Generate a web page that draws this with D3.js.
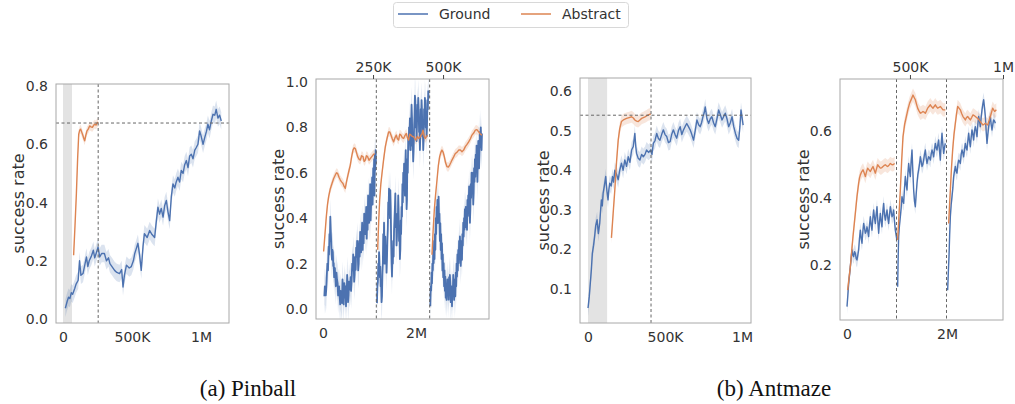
<!DOCTYPE html>
<meta charset="utf-8">
<style>
  body { margin: 0; background: #fff; }
</style>
<svg width="1015" height="404"></svg>
<script src="https://d3js.org/d3.v7.min.js"></script>
<script>

// ---- data (x in millions of steps, y = success rate) ----
var seriesNames = ["Ground", "Abstract"];

// (a) Pinball, single run
var pinGround = [[0.017,0.037],[0.03,0.06],[0.04,0.075],[0.05,0.07],[0.06,0.09],[0.07,0.085],[0.085,0.105],[0.095,0.12],[0.11,0.133],[0.12,0.2],[0.13,0.15],[0.145,0.156],[0.16,0.19],[0.17,0.213],[0.18,0.18],[0.19,0.2],[0.205,0.215],[0.22,0.236],[0.23,0.21],[0.24,0.225],[0.254,0.247],[0.266,0.213],[0.28,0.225],[0.3,0.225],[0.315,0.2],[0.33,0.21],[0.34,0.19],[0.355,0.18],[0.374,0.167],[0.39,0.16],[0.41,0.156],[0.425,0.17],[0.435,0.11],[0.445,0.15],[0.46,0.185],[0.48,0.175],[0.495,0.18],[0.51,0.2],[0.52,0.225],[0.53,0.24],[0.543,0.26],[0.555,0.22],[0.567,0.167],[0.58,0.25],[0.59,0.293],[0.61,0.28],[0.628,0.304],[0.645,0.29],[0.664,0.28],[0.675,0.33],[0.688,0.384],[0.7,0.36],[0.712,0.38],[0.725,0.35],[0.737,0.39],[0.749,0.407],[0.76,0.37],[0.773,0.338],[0.785,0.42],[0.797,0.464],[0.81,0.45],[0.82,0.47],[0.833,0.487],[0.845,0.47],[0.857,0.51],[0.87,0.5],[0.882,0.53],[0.894,0.544],[0.906,0.52],[0.918,0.56],[0.93,0.566],[0.942,0.55],[0.955,0.58],[0.966,0.589],[0.978,0.6],[0.99,0.646],[1.0,0.63],[1.015,0.6],[1.027,0.623],[1.04,0.645],[1.05,0.669],[1.062,0.65],[1.075,0.68],[1.087,0.703],[1.1,0.7],[1.11,0.72],[1.123,0.69],[1.135,0.7],[1.147,0.68]];
var pinAbstract = [[0.077,0.219],[0.087,0.32],[0.097,0.43],[0.106,0.55],[0.114,0.635],[0.121,0.648],[0.128,0.652],[0.137,0.64],[0.145,0.629],[0.151,0.62],[0.157,0.612],[0.165,0.63],[0.174,0.646],[0.183,0.652],[0.193,0.663],[0.203,0.66],[0.213,0.658],[0.222,0.665],[0.23,0.669],[0.24,0.666],[0.249,0.675],[0.255,0.672]];

// Pinball, three runs (second panel)
var pinGroundRuns = [
  [[0.029,0.056],[0.04,0.1],[0.05,0.09],[0.06,0.06],[0.07,0.085],[0.083,0.15],[0.095,0.2],[0.108,0.17],[0.122,0.275],[0.13,0.24],[0.14,0.33],[0.149,0.3],[0.158,0.407],[0.167,0.35],[0.176,0.3],[0.185,0.24],[0.194,0.217],[0.203,0.26],[0.212,0.25],[0.221,0.19],[0.23,0.202],[0.24,0.14],[0.248,0.17],[0.256,0.18],[0.265,0.143],[0.277,0.1],[0.29,0.16],[0.302,0.13],[0.315,0.114],[0.325,0.06],[0.335,0.09],[0.346,0.1],[0.358,0.056],[0.37,0.02],[0.38,0.08],[0.395,0.05],[0.409,0.026],[0.42,0.13],[0.43,0.09],[0.445,0.02],[0.459,0.114],[0.467,0.09],[0.475,0.05],[0.485,0.1],[0.495,0.012],[0.503,0.06],[0.512,0.08],[0.52,0.15],[0.53,0.114],[0.54,0.03],[0.55,0.06],[0.56,0.12],[0.573,0.085],[0.584,0.1],[0.595,0.14],[0.605,0.08],[0.616,0.129],[0.628,0.2],[0.64,0.17],[0.65,0.24],[0.66,0.202],[0.67,0.12],[0.68,0.15],[0.692,0.23],[0.703,0.173],[0.714,0.27],[0.725,0.23],[0.735,0.3],[0.746,0.261],[0.757,0.17],[0.768,0.2],[0.778,0.3],[0.789,0.231],[0.8,0.34],[0.81,0.3],[0.82,0.25],[0.832,0.319],[0.842,0.38],[0.853,0.26],[0.864,0.33],[0.875,0.29],[0.886,0.42],[0.897,0.38],[0.908,0.33],[0.918,0.378],[0.93,0.45],[0.94,0.31],[0.95,0.4],[0.96,0.349],[0.97,0.5],[0.982,0.45],[0.993,0.38],[1.004,0.436],[1.015,0.55],[1.025,0.39],[1.036,0.47],[1.047,0.495],[1.058,0.58],[1.068,0.46],[1.08,0.62],[1.09,0.553],[1.1,0.66],[1.108,0.5],[1.117,0.68],[1.125,0.612],[1.133,0.7],[1.14,0.641]],
  [[1.161,0.026],[1.17,0.1],[1.18,0.12],[1.19,0.2],[1.197,0.158],[1.206,0.25],[1.215,0.2],[1.224,0.14],[1.233,0.187],[1.24,0.1],[1.25,0.12],[1.26,0.03],[1.269,0.056],[1.278,0.15],[1.287,0.2],[1.296,0.33],[1.305,0.261],[1.313,0.38],[1.322,0.2],[1.331,0.26],[1.34,0.319],[1.35,0.2],[1.358,0.28],[1.367,0.16],[1.376,0.217],[1.385,0.3],[1.394,0.35],[1.403,0.47],[1.412,0.451],[1.42,0.53],[1.43,0.48],[1.44,0.4],[1.448,0.524],[1.457,0.45],[1.466,0.3],[1.475,0.2],[1.484,0.143],[1.493,0.25],[1.502,0.2],[1.511,0.3],[1.52,0.231],[1.529,0.35],[1.538,0.4],[1.547,0.45],[1.556,0.509],[1.565,0.36],[1.574,0.4],[1.582,0.28],[1.591,0.319],[1.6,0.42],[1.61,0.38],[1.618,0.5],[1.627,0.436],[1.636,0.3],[1.645,0.35],[1.654,0.22],[1.663,0.261],[1.672,0.39],[1.68,0.33],[1.69,0.45],[1.699,0.407],[1.708,0.55],[1.717,0.47],[1.726,0.6],[1.735,0.524],[1.744,0.64],[1.753,0.58],[1.762,0.5],[1.771,0.627],[1.78,0.7],[1.79,0.55],[1.798,0.44],[1.806,0.48],[1.815,0.66],[1.824,0.6],[1.833,0.75],[1.842,0.7],[1.851,0.8],[1.86,0.74],[1.869,0.84],[1.878,0.773],[1.887,0.7],[1.896,0.82],[1.905,0.9],[1.914,0.846],[1.922,0.72],[1.93,0.75],[1.94,0.65],[1.95,0.7],[1.959,0.8],[1.968,0.85],[1.977,0.94],[1.986,0.919],[1.995,0.8],[2.004,0.86],[2.013,0.74],[2.022,0.817],[2.031,0.9],[2.04,0.86],[2.049,0.93],[2.057,0.89],[2.066,0.78],[2.075,0.8],[2.084,0.7],[2.093,0.758],[2.102,0.88],[2.11,0.83],[2.12,0.92],[2.129,0.876],[2.138,0.76],[2.147,0.8],[2.156,0.7],[2.165,0.744],[2.174,0.88],[2.183,0.85],[2.192,0.93],[2.2,0.905],[2.21,0.8],[2.218,0.86],[2.228,0.76],[2.237,0.802],[2.246,0.92],[2.255,0.88],[2.264,0.96],[2.272,0.934]],
  [[2.308,0.012],[2.317,0.1],[2.326,0.08],[2.335,0.16],[2.344,0.114],[2.353,0.2],[2.362,0.17],[2.371,0.25],[2.38,0.202],[2.39,0.3],[2.398,0.22],[2.407,0.33],[2.416,0.261],[2.425,0.4],[2.434,0.33],[2.443,0.45],[2.452,0.378],[2.461,0.48],[2.47,0.45],[2.479,0.38],[2.487,0.495],[2.496,0.38],[2.505,0.42],[2.514,0.3],[2.523,0.378],[2.532,0.26],[2.541,0.33],[2.55,0.22],[2.559,0.29],[2.568,0.17],[2.577,0.24],[2.586,0.14],[2.595,0.202],[2.604,0.1],[2.613,0.17],[2.622,0.08],[2.631,0.143],[2.64,0.05],[2.649,0.11],[2.658,0.04],[2.667,0.085],[2.676,0.13],[2.685,0.06],[2.694,0.1],[2.703,0.041],[2.712,0.14],[2.72,0.09],[2.729,0.15],[2.738,0.114],[2.747,0.03],[2.756,0.06],[2.765,0.1],[2.774,0.012],[2.783,0.09],[2.792,0.07],[2.801,0.15],[2.81,0.114],[2.82,0.04],[2.828,0.09],[2.837,0.13],[2.846,0.056],[2.855,0.16],[2.864,0.1],[2.873,0.2],[2.882,0.143],[2.891,0.24],[2.9,0.17],[2.909,0.26],[2.918,0.202],[2.927,0.3],[2.936,0.24],[2.945,0.32],[2.953,0.261],[2.962,0.19],[2.97,0.23],[2.98,0.3],[2.989,0.217],[2.998,0.33],[3.007,0.28],[3.016,0.38],[3.025,0.319],[3.034,0.4],[3.043,0.35],[3.052,0.44],[3.061,0.378],[3.07,0.45],[3.079,0.36],[3.088,0.42],[3.097,0.349],[3.106,0.48],[3.115,0.41],[3.124,0.5],[3.133,0.451],[3.142,0.54],[3.15,0.46],[3.16,0.38],[3.168,0.436],[3.177,0.55],[3.186,0.49],[3.195,0.6],[3.204,0.524],[3.213,0.6],[3.222,0.55],[3.231,0.46],[3.24,0.509],[3.249,0.62],[3.258,0.56],[3.267,0.66],[3.276,0.583],[3.285,0.68],[3.294,0.61],[3.303,0.72],[3.312,0.641],[3.321,0.56],[3.33,0.66],[3.339,0.74],[3.348,0.685],[3.357,0.62],[3.366,0.7],[3.375,0.78],[3.384,0.714],[3.393,0.8],[3.4,0.74],[3.41,0.7],[3.419,0.773]]
];
var pinAbstractRuns = [
  [[0.014,0.253],[0.043,0.33],[0.072,0.407],[0.097,0.46],[0.122,0.495],[0.158,0.53],[0.194,0.553],[0.23,0.575],[0.265,0.59],[0.29,0.6],[0.315,0.597],[0.345,0.58],[0.373,0.568],[0.4,0.56],[0.43,0.553],[0.455,0.54],[0.48,0.531],[0.505,0.56],[0.53,0.583],[0.56,0.61],[0.588,0.634],[0.616,0.67],[0.645,0.7],[0.67,0.71],[0.695,0.707],[0.72,0.69],[0.746,0.671],[0.775,0.66],[0.803,0.656],[0.83,0.675],[0.86,0.671],[0.885,0.65],[0.91,0.656],[0.935,0.675],[0.96,0.671],[0.99,0.655],[1.018,0.663],[1.045,0.67],[1.075,0.678],[1.11,0.685]],
  [[1.176,0.261],[1.197,0.38],[1.219,0.48],[1.244,0.55],[1.269,0.597],[1.305,0.66],[1.34,0.714],[1.376,0.75],[1.412,0.78],[1.437,0.78],[1.462,0.766],[1.49,0.75],[1.52,0.736],[1.55,0.755],[1.577,0.766],[1.6,0.75],[1.627,0.744],[1.65,0.77],[1.677,0.766],[1.705,0.755],[1.735,0.751],[1.765,0.765],[1.792,0.773],[1.815,0.755],[1.842,0.744],[1.865,0.77],[1.892,0.766],[1.92,0.76],[1.95,0.758],[1.975,0.75],[2.0,0.744],[2.03,0.76],[2.057,0.751],[2.08,0.755],[2.108,0.766],[2.13,0.77],[2.151,0.788],[2.175,0.76],[2.2,0.751],[2.225,0.76],[2.25,0.766]],
  [[2.344,0.239],[2.37,0.35],[2.394,0.436],[2.42,0.5],[2.452,0.568],[2.48,0.63],[2.509,0.671],[2.535,0.69],[2.559,0.7],[2.585,0.69],[2.609,0.671],[2.635,0.645],[2.667,0.627],[2.695,0.625],[2.724,0.634],[2.75,0.645],[2.774,0.656],[2.81,0.67],[2.846,0.685],[2.88,0.69],[2.918,0.7],[2.955,0.7],[2.989,0.693],[3.025,0.7],[3.061,0.715],[3.097,0.725],[3.133,0.736],[3.17,0.75],[3.204,0.766],[3.24,0.775],[3.276,0.788],[3.31,0.79],[3.348,0.78],[3.385,0.77],[3.419,0.766]]
];

// (b) Antmaze, single run
var antGround = [[0.0,0.052],[0.008,0.08],[0.015,0.115],[0.022,0.15],[0.028,0.19],[0.036,0.21],[0.043,0.233],[0.05,0.26],[0.059,0.275],[0.067,0.24],[0.076,0.266],[0.082,0.3],[0.087,0.325],[0.093,0.31],[0.098,0.342],[0.106,0.36],[0.115,0.384],[0.122,0.35],[0.13,0.325],[0.135,0.35],[0.141,0.367],[0.15,0.36],[0.159,0.384],[0.166,0.37],[0.174,0.4],[0.185,0.39],[0.196,0.376],[0.206,0.4],[0.217,0.418],[0.228,0.4],[0.239,0.426],[0.25,0.41],[0.261,0.434],[0.272,0.42],[0.283,0.451],[0.294,0.46],[0.304,0.493],[0.31,0.46],[0.315,0.443],[0.326,0.43],[0.337,0.426],[0.348,0.44],[0.359,0.434],[0.37,0.44],[0.38,0.451],[0.393,0.445],[0.407,0.451],[0.415,0.44],[0.424,0.468],[0.435,0.475],[0.446,0.493],[0.457,0.48],[0.467,0.476],[0.478,0.49],[0.489,0.502],[0.5,0.49],[0.511,0.485],[0.522,0.47],[0.533,0.472],[0.543,0.49],[0.554,0.502],[0.565,0.49],[0.576,0.481],[0.587,0.5],[0.598,0.51],[0.609,0.49],[0.62,0.502],[0.63,0.51],[0.641,0.518],[0.652,0.51],[0.663,0.502],[0.674,0.49],[0.685,0.476],[0.696,0.5],[0.707,0.527],[0.718,0.515],[0.728,0.51],[0.737,0.52],[0.746,0.535],[0.754,0.545],[0.761,0.56],[0.772,0.53],[0.783,0.518],[0.794,0.53],[0.804,0.535],[0.815,0.52],[0.826,0.51],[0.837,0.53],[0.848,0.552],[0.859,0.54],[0.87,0.527],[0.88,0.535],[0.891,0.544],[0.902,0.53],[0.913,0.51],[0.924,0.52],[0.935,0.535],[0.946,0.51],[0.957,0.493],[0.968,0.48],[0.978,0.476],[0.986,0.51],[0.993,0.552],[1.007,0.514]];
var antAbstract = [[0.152,0.229],[0.163,0.29],[0.174,0.35],[0.185,0.42],[0.196,0.476],[0.206,0.505],[0.217,0.523],[0.233,0.528],[0.25,0.531],[0.267,0.533],[0.283,0.535],[0.294,0.532],[0.304,0.527],[0.315,0.524],[0.326,0.523],[0.337,0.527],[0.348,0.531],[0.359,0.533],[0.37,0.535],[0.38,0.537],[0.391,0.54],[0.407,0.542]];

// Antmaze, three runs (fourth panel)
var antGroundRuns = [
  [[0.0,0.076],[0.017,0.11],[0.033,0.145],[0.05,0.17],[0.067,0.195],[0.083,0.22],[0.1,0.245],[0.117,0.23],[0.133,0.225],[0.15,0.24],[0.167,0.235],[0.183,0.22],[0.2,0.215],[0.217,0.23],[0.233,0.245],[0.25,0.28],[0.267,0.304],[0.283,0.28],[0.3,0.265],[0.317,0.3],[0.333,0.324],[0.35,0.31],[0.367,0.295],[0.383,0.3],[0.4,0.314],[0.417,0.3],[0.433,0.285],[0.45,0.32],[0.467,0.344],[0.483,0.32],[0.5,0.304],[0.517,0.34],[0.533,0.364],[0.55,0.34],[0.567,0.324],[0.583,0.35],[0.6,0.374],[0.617,0.33],[0.633,0.295],[0.65,0.33],[0.667,0.354],[0.683,0.33],[0.7,0.314],[0.717,0.36],[0.733,0.384],[0.75,0.35],[0.767,0.334],[0.783,0.35],[0.8,0.364],[0.817,0.34],[0.833,0.324],[0.85,0.35],[0.867,0.374],[0.883,0.36],[0.9,0.344],[0.917,0.35],[0.933,0.364],[0.95,0.33],[0.967,0.304],[0.983,0.29],[1.0,0.275]],
  [[1.013,0.135],[1.023,0.22],[1.033,0.285],[1.05,0.32],[1.067,0.344],[1.083,0.37],[1.1,0.404],[1.117,0.39],[1.133,0.384],[1.15,0.43],[1.167,0.464],[1.183,0.44],[1.2,0.424],[1.217,0.47],[1.233,0.503],[1.25,0.48],[1.267,0.464],[1.283,0.51],[1.3,0.543],[1.317,0.48],[1.333,0.424],[1.35,0.39],[1.367,0.374],[1.383,0.41],[1.4,0.444],[1.417,0.47],[1.433,0.484],[1.45,0.5],[1.467,0.523],[1.483,0.51],[1.5,0.494],[1.517,0.5],[1.533,0.513],[1.55,0.53],[1.567,0.543],[1.583,0.52],[1.6,0.503],[1.617,0.515],[1.633,0.523],[1.65,0.52],[1.667,0.513],[1.683,0.53],[1.7,0.543],[1.717,0.535],[1.733,0.523],[1.75,0.545],[1.767,0.563],[1.783,0.55],[1.8,0.543],[1.817,0.56],[1.833,0.573],[1.85,0.54],[1.867,0.513],[1.883,0.56],[1.9,0.593],[1.917,0.56],[1.933,0.533],[1.95,0.55],[1.967,0.563]],
  [[2.013,0.125],[2.027,0.18],[2.04,0.225],[2.053,0.29],[2.067,0.344],[2.083,0.38],[2.1,0.404],[2.117,0.43],[2.133,0.464],[2.15,0.48],[2.167,0.494],[2.183,0.48],[2.2,0.474],[2.217,0.5],[2.233,0.513],[2.25,0.51],[2.267,0.503],[2.283,0.53],[2.3,0.543],[2.317,0.535],[2.333,0.523],[2.35,0.545],[2.367,0.563],[2.383,0.55],[2.4,0.543],[2.417,0.57],[2.433,0.593],[2.45,0.57],[2.467,0.553],[2.483,0.58],[2.5,0.603],[2.517,0.59],[2.533,0.573],[2.55,0.6],[2.567,0.613],[2.583,0.6],[2.6,0.583],[2.617,0.62],[2.633,0.643],[2.65,0.63],[2.667,0.613],[2.683,0.64],[2.7,0.663],[2.717,0.68],[2.733,0.693],[2.75,0.67],[2.767,0.643],[2.783,0.6],[2.8,0.563],[2.817,0.59],[2.833,0.613],[2.85,0.63],[2.867,0.643],[2.883,0.62],[2.9,0.603],[2.917,0.62],[2.933,0.633],[2.95,0.63],[2.967,0.623]]
];
var antAbstractRuns = [
  [[0.013,0.125],[0.04,0.16],[0.067,0.195],[0.093,0.24],[0.12,0.285],[0.147,0.325],[0.173,0.364],[0.2,0.405],[0.233,0.444],[0.25,0.46],[0.267,0.469],[0.293,0.478],[0.32,0.484],[0.343,0.475],[0.367,0.464],[0.39,0.478],[0.413,0.489],[0.44,0.484],[0.467,0.479],[0.493,0.487],[0.52,0.494],[0.543,0.484],[0.567,0.474],[0.59,0.487],[0.613,0.499],[0.64,0.494],[0.667,0.489],[0.693,0.49],[0.72,0.494],[0.743,0.497],[0.767,0.499],[0.79,0.496],[0.813,0.494],[0.84,0.498],[0.867,0.503],[0.893,0.5],[0.92,0.499],[0.953,0.503]],
  [[1.013,0.275],[1.04,0.35],[1.067,0.424],[1.093,0.51],[1.12,0.583],[1.153,0.62],[1.187,0.643],[1.22,0.665],[1.253,0.683],[1.287,0.695],[1.32,0.707],[1.343,0.7],[1.367,0.693],[1.39,0.68],[1.413,0.668],[1.44,0.66],[1.467,0.653],[1.493,0.655],[1.52,0.658],[1.543,0.656],[1.567,0.653],[1.59,0.66],[1.613,0.668],[1.64,0.673],[1.667,0.678],[1.693,0.672],[1.72,0.668],[1.743,0.673],[1.767,0.678],[1.79,0.672],[1.813,0.668],[1.84,0.67],[1.867,0.673],[1.893,0.668],[1.92,0.663],[1.967,0.663]],
  [[2.033,0.324],[2.05,0.375],[2.067,0.424],[2.09,0.49],[2.113,0.543],[2.14,0.59],[2.167,0.623],[2.19,0.65],[2.213,0.673],[2.24,0.668],[2.267,0.663],[2.293,0.652],[2.32,0.643],[2.343,0.638],[2.367,0.633],[2.39,0.64],[2.413,0.643],[2.44,0.638],[2.467,0.633],[2.493,0.64],[2.52,0.648],[2.543,0.646],[2.567,0.643],[2.59,0.64],[2.613,0.638],[2.64,0.633],[2.667,0.628],[2.693,0.622],[2.72,0.618],[2.743,0.62],[2.767,0.623],[2.79,0.62],[2.813,0.618],[2.84,0.63],[2.867,0.643],[2.89,0.655],[2.913,0.668],[2.933,0.663],[2.953,0.658],[2.987,0.663]]
];

// confidence half-widths per series
var ciPin = { ground: 0.03, abstract: 0.015 };
var ciPinRuns = { ground: 0.08, abstract: 0.02 };
var ciAnt = { ground: 0.02, abstract: 0.015 };
var ciAntRuns = { ground: 0.022, abstract: 0.02 };

// reference markers
var pinWarmup = [0, 0.065], pinSwitch = 0.255, pinTarget = 0.673;
var antWarmup = [0, 0.124], antSwitch = 0.409, antTarget = 0.539;
var pinRunBreaks = [1.147, 2.294];
var antRunBreaks = [0.99, 1.99];

var captions = ["(a) Pinball", "(b) Antmaze"];

// ---- drawing ----
var blue = "#4c72b0", orange = "#dd8452";
var svg = d3.select("svg");

function fmtSteps(v) {
  if (v === 0) return "0";
  if (v < 1) return Math.round(v * 1000) + "K";
  return v + "M";
}

var clipId = 0;
function panel(opt) {
  var x = d3.scaleLinear().domain(opt.xDomain).range([opt.left, opt.right]);
  var y = d3.scaleLinear().domain(opt.yDomain).range([opt.bottom, opt.top]);
  var g = svg.append("g");

  var cid = "clip" + (clipId++);
  g.append("clipPath").attr("id", cid).append("rect")
    .attr("x", opt.left).attr("y", opt.top)
    .attr("width", opt.right - opt.left).attr("height", opt.bottom - opt.top);
  var plot = g.append("g").attr("clip-path", "url(#" + cid + ")");

  if (opt.warmup) {
    plot.append("rect")
      .attr("x", x(opt.warmup[0])).attr("width", x(opt.warmup[1]) - x(opt.warmup[0]))
      .attr("y", opt.top).attr("height", opt.bottom - opt.top)
      .attr("fill", "#e3e3e3");
  }

  var line = d3.line().x(function(d){ return x(d[0]); }).y(function(d){ return y(d[1]); });
  function band(ci) {
    return d3.area().x(function(d){ return x(d[0]); })
      .y0(function(d){ return y(d[1] - ci); })
      .y1(function(d){ return y(d[1] + ci); });
  }

  opt.series.forEach(function(s) {
    s.runs.forEach(function(run) {
      plot.append("path").attr("d", band(s.ci)(run))
        .attr("fill", s.color).attr("fill-opacity", 0.2).attr("stroke", "none");
    });
  });
  opt.series.forEach(function(s) {
    s.runs.forEach(function(run) {
      plot.append("path").attr("d", line(run))
        .attr("fill", "none").attr("stroke", s.color).attr("stroke-width", s.width || 1.4)
        .attr("stroke-linejoin", "round");
    });
  });

  (opt.vlines || []).forEach(function(v) {
    plot.append("line").attr("x1", x(v)).attr("x2", x(v))
      .attr("y1", opt.top).attr("y2", opt.bottom)
      .attr("stroke", "#666").attr("stroke-width", 1).attr("stroke-dasharray", "3,2.5");
  });
  if (opt.hline != null) {
    plot.append("line").attr("x1", opt.left).attr("x2", opt.right)
      .attr("y1", y(opt.hline)).attr("y2", y(opt.hline))
      .attr("stroke", "#666").attr("stroke-width", 1).attr("stroke-dasharray", "3,2.5");
  }

  // frame
  g.append("rect").attr("x", opt.left).attr("y", opt.top)
    .attr("width", opt.right - opt.left).attr("height", opt.bottom - opt.top)
    .attr("fill", "none").attr("stroke", "#a8a8a8").attr("stroke-width", 1);

  var xAxis = g.append("g").attr("transform", "translate(0," + opt.bottom + ")")
    .call(d3.axisBottom(x).tickValues(opt.xTicks).tickFormat(fmtSteps).tickSize(0).tickPadding(9));
  var yAxis = g.append("g").attr("transform", "translate(" + opt.left + ",0)")
    .call(d3.axisLeft(y).tickValues(opt.yTicks).tickFormat(d3.format(opt.yFormat)).tickSize(0).tickPadding(8));
  [xAxis, yAxis].forEach(function(a) {
    a.select(".domain").remove();
    a.selectAll("text").attr("font-size", 14).attr("fill", "#333")
      .attr("font-family", "DejaVu Sans, sans-serif");
  });

  if (opt.topAxis) {
    var xt = d3.scaleLinear().domain(opt.topAxis.domain).range([opt.left, opt.right]);
    var ta = g.append("g").attr("transform", "translate(0," + opt.top + ")")
      .call(d3.axisTop(xt).tickValues(opt.topAxis.ticks)
        .tickFormat(function(v){ return fmtSteps(v / 1e6); }).tickSize(4).tickPadding(3));
    ta.select(".domain").remove();
    ta.selectAll("line").attr("stroke", "#444");
    ta.selectAll("text").attr("font-size", 14).attr("fill", "#333")
      .attr("font-family", "DejaVu Sans, sans-serif");
  }

  g.append("text")
    .attr("transform", "translate(" + opt.labelX + "," + ((opt.top + opt.bottom) / 2) + ") rotate(-90)")
    .attr("text-anchor", "middle").attr("dy", "0.35em")
    .attr("font-family", "DejaVu Sans, sans-serif")
    .attr("font-size", 16).attr("fill", "#333")
    .text("success rate");
}

panel({
  left: 56, right: 229, top: 84, bottom: 323,
  xDomain: [-0.0507, 1.203], yDomain: [-0.0137, 0.807],
  xTicks: [0, 0.5, 1], yTicks: [0, 0.2, 0.4, 0.6, 0.8], yFormat: ".1f",
  warmup: pinWarmup, vlines: [pinSwitch], hline: pinTarget, labelX: 18,
  series: [
    { color: blue, ci: ciPin.ground, runs: [pinGround] },
    { color: orange, ci: ciPin.abstract, runs: [pinAbstract] }
  ]
});

panel({
  left: 316, right: 489, top: 79, bottom: 319,
  xDomain: [-0.15, 3.57], yDomain: [-0.044, 1.013],
  xTicks: [0, 2], yTicks: [0, 0.2, 0.4, 0.6, 0.8, 1.0], yFormat: ".1f",
  vlines: pinRunBreaks, labelX: 278,
  topAxis: { domain: [46400, 664000], ticks: [250000, 500000] },
  series: [
    { color: blue, ci: ciPinRuns.ground, runs: pinGroundRuns, width: 1.8 },
    { color: orange, ci: ciPinRuns.abstract, runs: pinAbstractRuns }
  ]
});

panel({
  left: 580, right: 751, top: 78, bottom: 323,
  xDomain: [-0.052, 1.058], yDomain: [0.014, 0.633],
  xTicks: [0, 0.5, 1], yTicks: [0.1, 0.2, 0.3, 0.4, 0.5, 0.6], yFormat: ".1f",
  warmup: antWarmup, vlines: [antSwitch], hline: antTarget, labelX: 543,
  series: [
    { color: blue, ci: ciAnt.ground, runs: [antGround] },
    { color: orange, ci: ciAnt.abstract, runs: [antAbstract] }
  ]
});

panel({
  left: 840, right: 1003, top: 79, bottom: 320,
  xDomain: [-0.14, 3.12], yDomain: [0.036, 0.755],
  xTicks: [0, 2], yTicks: [0.2, 0.4, 0.6], yFormat: ".1f",
  vlines: antRunBreaks, labelX: 803,
  topAxis: { domain: [124000, 1000000], ticks: [500000, 1000000] },
  series: [
    { color: blue, ci: ciAntRuns.ground, runs: antGroundRuns },
    { color: orange, ci: ciAntRuns.abstract, runs: antAbstractRuns }
  ]
});

// legend
var legend = svg.append("g");
legend.append("rect").attr("x", 393.5).attr("y", 2.5).attr("width", 235).attr("height", 25)
  .attr("rx", 3).attr("fill", "#fff").attr("stroke", "#d8d8d8");
[[398, blue], [521, orange]].forEach(function(p, i) {
  legend.append("line").attr("x1", p[0]).attr("x2", p[0] + 30).attr("y1", 14).attr("y2", 14)
    .attr("stroke", p[1]).attr("stroke-width", 1.5);
  legend.append("text").attr("x", p[0] + 41).attr("y", 19)
    .attr("font-family", "DejaVu Sans, sans-serif")
    .attr("font-size", 14).attr("fill", "#333").text(seriesNames[i]);
});

// captions
[[248, captions[0]], [774, captions[1]]].forEach(function(c) {
  svg.append("text").attr("x", c[0]).attr("y", 396).attr("text-anchor", "middle")
    .attr("font-family", "Liberation Serif, Times New Roman, serif").attr("font-size", 23)
    .attr("fill", "#111").text(c[1]);
});
</script>
